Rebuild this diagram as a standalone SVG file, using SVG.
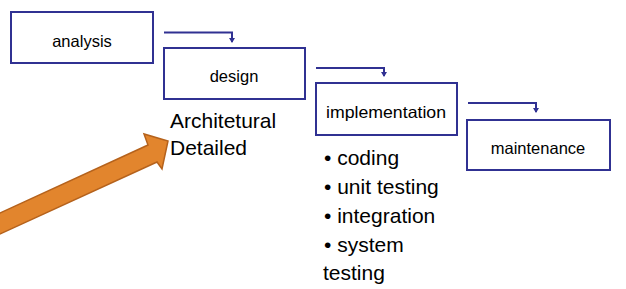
<svg xmlns="http://www.w3.org/2000/svg" width="626" height="289" viewBox="0 0 626 289">
  <style>
    .box { fill: #ffffff; stroke: #303192; stroke-width: 2; }
    .lbl { font-family: "Liberation Sans", Arial, sans-serif; font-size: 16.5px; fill: #000; text-anchor: middle; }
    .txt { font-family: "Liberation Sans", Arial, sans-serif; font-size: 21px; fill: #000; }
    .link { fill: none; stroke: #303192; stroke-width: 2; marker-end: url(#tip); }
  </style>
  <defs>
    <!-- small filled triangle pointing along the path end -->
    <marker id="tip" viewBox="0 0 5 6" refX="4" refY="3" markerWidth="5" markerHeight="6" markerUnits="userSpaceOnUse" orient="auto">
      <path d="M0,0 L5,3 L0,6 Z" fill="#303192"/>
    </marker>
  </defs>
  <rect width="626" height="289" fill="#ffffff"/>

  <g id="connectors">
    <path class="link" d="M164,32.5 H232 V42"/>
    <path class="link" d="M316,68 H384 V76"/>
    <path class="link" d="M468,103 H536 V112"/>
  </g>

  <g id="analysis">
    <rect class="box" x="11" y="12" width="142" height="51"/>
    <text class="lbl" x="82" y="47">analysis</text>
  </g>

  <g id="design">
    <rect class="box" x="164" y="48" width="141" height="51"/>
    <text class="lbl" x="234" y="82">design</text>
  </g>

  <g id="implementation">
    <rect class="box" x="316" y="83" width="141" height="52"/>
    <text class="lbl" x="386" y="118" textLength="120" lengthAdjust="spacingAndGlyphs">implementation</text>
  </g>

  <g id="maintenance">
    <rect class="box" x="467" y="120" width="143" height="50"/>
    <text class="lbl" x="538" y="154">maintenance</text>
  </g>

  <g id="design-notes">
    <text class="txt" x="170" y="128">Architetural</text>
    <text class="txt" x="170" y="155">Detailed</text>
  </g>

  <g id="implementation-notes">
    <text class="txt" x="324" y="165">• coding</text>
    <text class="txt" x="324" y="194">• unit testing</text>
    <text class="txt" x="324" y="223">• integration</text>
    <text class="txt" x="324" y="252">• system</text>
    <text class="txt" x="323" y="280">testing</text>
  </g>

  <g id="pointer">
    <polygon points="-5,215.3 148,145 144,134 168,141 162,169 157,162 -5,236.3" fill="#E2852D" stroke="#B5621C" stroke-width="1.5" stroke-linejoin="miter"/>
  </g>
</svg>
